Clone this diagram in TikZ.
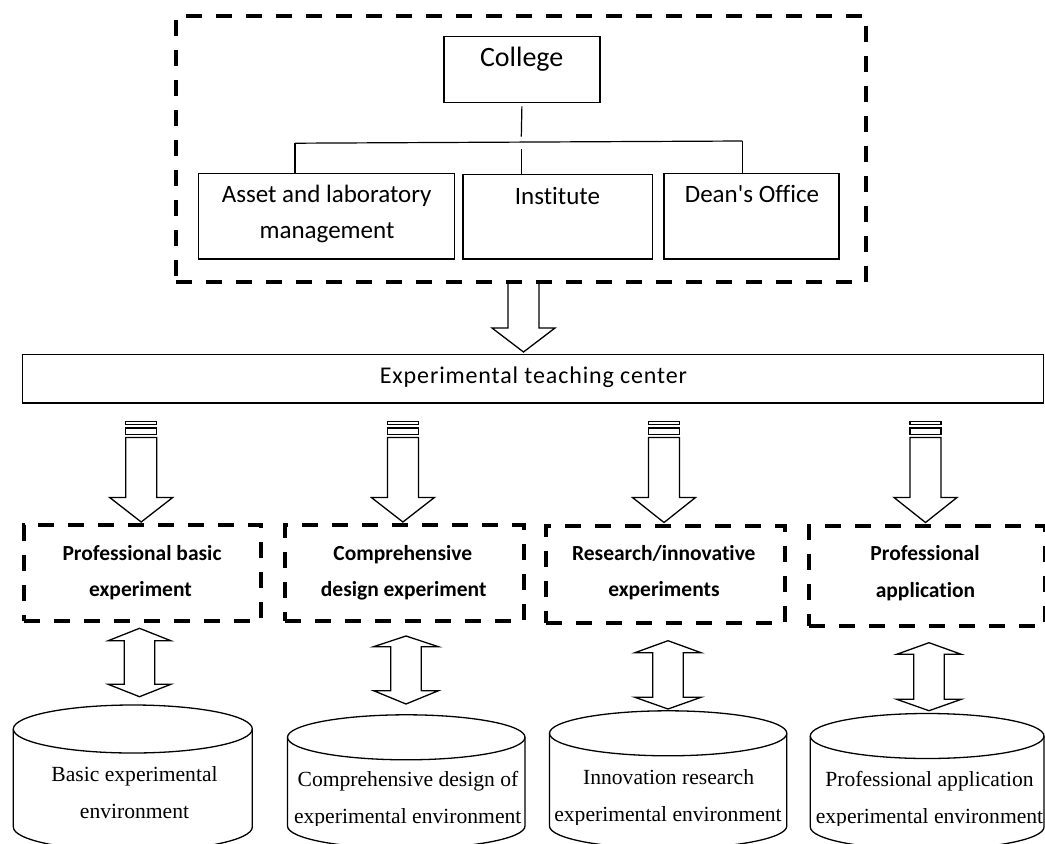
\documentclass[tikz,border=0pt]{standalone}
\usepackage{fontspec}
\setmainfont{Liberation Serif}
\newfontfamily\calfont{Carlito}[Ligatures={NoCommon}]
\usetikzlibrary{calc}
\newcommand\stripedarrow[2]{%
  \draw[blk] (#1-15.5,421.7) rectangle (#1+15.5,424.7);
  \draw[blk] (#1-15.5,428) rectangle (#1+15.5,434.5);
  \draw[blk] (#1-15.5,437.5) -- (#1-15.5,497.5) -- (#1-31.5,497.5) -- (#2) -- (#1+31.5,497.5) -- (#1+15.5,497.5) -- (#1+15.5,437.5) -- cycle;
}
\newcommand\dblarrow[6]{% cx, ytop, ybase1, ybase2, ybot, head half width
  \draw[blk] (#1,#2) -- (#1+#6,#3) -- (#1+15.2,#3) -- (#1+15.2,#4) -- (#1+#6,#4) -- (#1,#5)
     -- (#1-#6,#4) -- (#1-15.2,#4) -- (#1-15.2,#3) -- (#1-#6,#3) -- cycle;
}
\newcommand\cylshape[5]{% xl, xr, yc, ry, ybot
  \draw[blk] ({(#1+#2)/2},#3) ellipse [x radius={(#2-#1)/2}, y radius=#4];
  \draw[blk] (#1,#3) -- (#1,#5) arc[start angle=180, end angle=0, x radius={(#2-#1)/2}, y radius=#4] -- (#2,#3);
}
\begin{document}
\begin{tikzpicture}[x=1pt,y=-1pt,
  box/.style={draw, line width=1.2pt, inner sep=0pt, anchor=north west},
  dbox/.style={draw, line width=4pt, dash pattern=on 16pt off 14pt, inner sep=0pt, anchor=north west},
  blk/.style={draw, line width=1.3pt, line join=miter},
  conn/.style={line width=1.2pt},
  ttop/.style={anchor=base, inner sep=0pt, font=\calfont\fontsize{25}{30}\selectfont},
  tbold/.style={anchor=base, inner sep=0pt, font=\calfont\bfseries\fontsize{21.5}{26}\selectfont},
  tcyl/.style={anchor=base, inner sep=0pt, font=\fontsize{21.6}{26}\selectfont},
]
\useasboundingbox (0,0) rectangle (1045,844);
\fill[white] (0,0) rectangle (1045,844);
\clip (0,0) rectangle (1045,844);

% top dashed frame
\node[dbox, minimum width=690pt, minimum height=266pt] (frame) at (174,14) {};

% college block
\node[box, minimum width=156pt, minimum height=66pt] (college) at (443.3,35.7) {};
\node[anchor=base, inner sep=0pt, font=\calfont\fontsize{28}{34}\selectfont] (tcollege) at (521.7,66.7) {College};

\node[box, minimum width=255.8pt, minimum height=85.6pt] (asset) at (198.1,172.7) {};
\node[box, minimum width=189.7pt, minimum height=84.3pt] (inst) at (462.4,174) {};
\node[box, minimum width=175pt, minimum height=85.6pt] (dean) at (663.3,172.7) {};
\node[ttop] (tasset1) at (326.7,202.5) {Asset and laboratory};
\node[ttop] (tasset2) at (327,238.8) {management};
\node[ttop] (tinst) at (557.4,204) {Institute};
\node[ttop] (tdean) at (752,202.2) {Dean\textquotesingle s Office};

% tree connectors
\coordinate (cA) at ($(college.south)+(0,3.5)$);
\coordinate (cB) at (521.3,136.7);
\coordinate (hL) at (295,143.2);
\coordinate (hR) at (742.3,141);
\coordinate (hM) at (521.3,149.3);
\draw[conn] (cA) -- (cB);
\draw[conn] (hL) -- (hR);
\draw[conn] (hL) -- (hL |- asset.north);
\draw[conn] (hM) -- (hM |- inst.north);
\draw[conn] (hR) -- (hR |- dean.north);

% center box
\node[box, minimum width=1021.3pt, minimum height=48.3pt] (center) at (21.7,354) {};
\node[anchor=base, inner sep=0pt, font=\calfont\fontsize{24}{29}\selectfont\addfontfeature{LetterSpace=3.6}] (tcenter) at (533.5,383.3) {Experimental teaching center};

% arrow frame -> center
\coordinate (tipTop) at (523.5,352);
\draw[blk] (508,281) -- (508,328) -- (492,328) -- (tipTop) -- (555,328) -- (539,328) -- (539,281);

% lower dashed boxes
\node[dbox, minimum width=237.3pt, minimum height=95.7pt] (d1) at (21.7,523.3) {};
\node[dbox, minimum width=238.7pt, minimum height=95.7pt] (d2) at (283,523.3) {};
\node[dbox, minimum width=239.3pt, minimum height=96.7pt] (d3) at (544,524) {};
\node[dbox, minimum width=236pt, minimum height=100pt] (d4) at (806.7,524) {};

\node[tbold] (b1a) at (142,560) {Professional basic};
\node[tbold] (b1b) at (140.5,596) {experiment};
\node[tbold] (b2a) at (402.8,560) {Comprehensive};
\node[tbold] (b2b) at (403.7,596) {design experiment};
\node[tbold] (b3a) at (663.8,560) {Research/innovative};
\node[tbold] (b3b) at (664,596.5) {experiments};
\node[tbold] (b4a) at (925,560) {Professional};
\node[tbold] (b4b) at (925.5,597) {application};

% striped arrows center -> boxes
\coordinate (t1) at (141.2,522);
\coordinate (t2) at (402.9,522);
\coordinate (t3) at (664,522.5);
\coordinate (t4) at (925.5,522.5);
\stripedarrow{141.2}{t1}
\stripedarrow{402.9}{t2}
\stripedarrow{664}{t3}
\stripedarrow{925.5}{t4}

% double arrows
\dblarrow{139.5}{628.3}{640.7}{684.3}{696.7}{31.3}
\dblarrow{406}{636}{646.7}{690.7}{704}{32.4}
\dblarrow{668}{640.7}{652.7}{697.3}{709}{33}
\dblarrow{929}{642.7}{654.3}{699.3}{710.7}{32.3}

% cylinders
\cylshape{13.3}{252.3}{729}{24}{827}
\cylshape{287.5}{525}{737.3}{22.5}{826}
\cylshape{549.5}{786.8}{733.3}{22.5}{826}
\cylshape{810.3}{1044}{736}{22.5}{827}

\node[tcyl] (e1a) at (134.5,781.7) {Basic experimental};
\node[tcyl] (e1b) at (134.5,818.3) {environment};
\node[tcyl] (e2a) at (408,786) {Comprehensive design of};
\node[tcyl] (e3a) at (668.6,784.5) {Innovation research};
\node[tcyl] (e4a) at (929.5,786.7) {Professional application};
\begin{scope}
  \clip (280,790) rectangle (1045,825.6);
  \node[tcyl] (e2b) at (407.7,823.3) {experimental environment};
\end{scope}
\begin{scope}
  \clip (540,790) rectangle (800,824);
  \node[tcyl] (e3b) at (668,821.7) {experimental environment};
\end{scope}
\begin{scope}
  \clip (800,790) rectangle (1045,825.3);
  \node[tcyl] (e4b) at (929.5,823.3) {experimental environment};
\end{scope}
\end{tikzpicture}
\end{document}
